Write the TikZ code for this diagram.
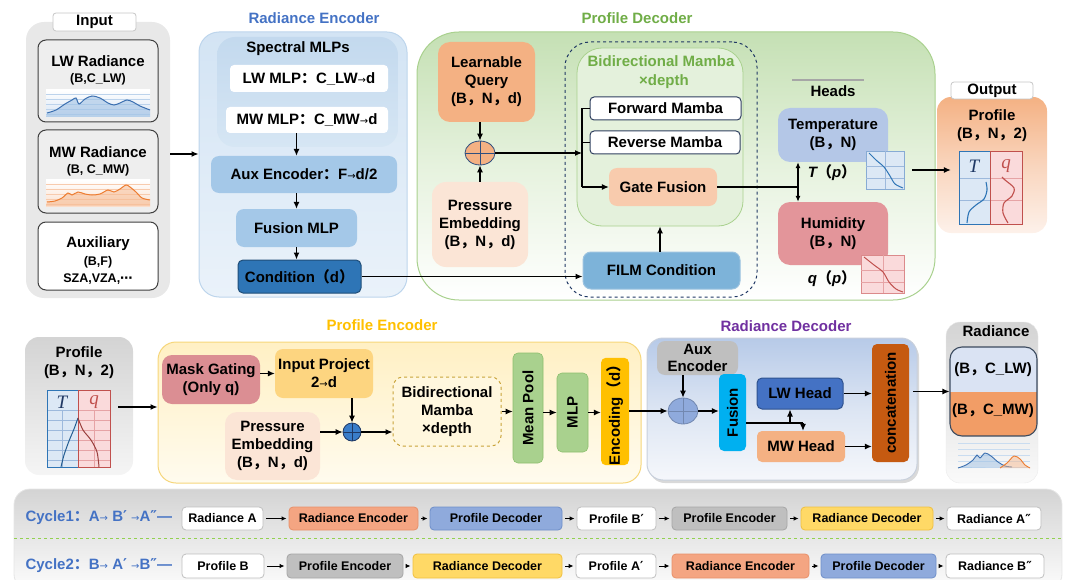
\documentclass[tikz,border=0pt]{standalone}
\usepackage{fontspec}
\setmainfont{Liberation Sans}
\newfontfamily\cjk{Noto Sans CJK SC}
\newfontfamily\dvf{DejaVu Sans}
\newfontfamily\serf{Liberation Serif}
\usetikzlibrary{arrows.meta,shadows,shapes.geometric}
\newcommand\fw[1]{{\cjk #1}}
\newcommand\ra{{\dvf\mdseries\fontsize{10}{10}\selectfont →}}
\newcommand\pr{{\dvf ′}}
\newcommand\dpr{{\dvf ″}}
\newcommand\bx[7]{\node[#1, minimum width={(#4-#2)*1pt}, minimum height={(#5-#3)*1pt}, inner sep=0pt] (#6) at ({(#2+#4)/2},{(#3+#5)/2}) {#7};}
\definecolor{inGray}{HTML}{E8E8E8}
\definecolor{boxGray}{HTML}{EEEEEE}
\definecolor{boxLine}{HTML}{3F3F3F}
\definecolor{titleBlue}{HTML}{4472C4}
\definecolor{titleGreen}{HTML}{70AD47}
\definecolor{titleYel}{HTML}{FFC000}
\definecolor{titlePur}{HTML}{7030A0}
\definecolor{reTop}{HTML}{D3E4F4}
\definecolor{reBot}{HTML}{EAF2FA}
\definecolor{reLine}{HTML}{BDD5EC}
\definecolor{spTop}{HTML}{C3D9EE}
\definecolor{spBot}{HTML}{D6E6F4}
\definecolor{auxB}{HTML}{A4C8E8}
\definecolor{condB}{HTML}{2E75B6}
\definecolor{condL}{HTML}{1F4E79}
\definecolor{pdTop}{HTML}{C5E0B4}
\definecolor{pdMid}{HTML}{E6F2DE}
\definecolor{pdLine}{HTML}{A9D18E}
\definecolor{lqO}{HTML}{F4B183}
\definecolor{plusL}{HTML}{2F4F7F}
\definecolor{peP}{HTML}{FBE5D6}
\definecolor{dashL}{HTML}{203864}
\definecolor{mbG}{HTML}{E4F1DC}
\definecolor{mbL}{HTML}{A9D18E}
\definecolor{fwdL}{HTML}{2F3F5F}
\definecolor{gateO}{HTML}{F8CBAD}
\definecolor{filmB}{HTML}{7DB3D9}
\definecolor{filmL}{HTML}{9CC3E0}
\definecolor{tempB}{HTML}{B4C7E7}
\definecolor{humR}{HTML}{E3959A}
\definecolor{outTop}{HTML}{F4B183}
\definecolor{outMid}{HTML}{F9D5BD}
\definecolor{outBot}{HTML}{FDF1EA}
\definecolor{tBlue}{HTML}{2E75B6}
\definecolor{tDark}{HTML}{1F3864}
\definecolor{tFill}{HTML}{DCE8F5}
\definecolor{tGrid}{HTML}{9DB9DC}
\definecolor{qRed}{HTML}{C0504D}
\definecolor{qFill}{HTML}{FADADB}
\definecolor{qGrid}{HTML}{E6A3A5}
\definecolor{lwLine}{HTML}{3B6FB0}
\definecolor{lwArea}{HTML}{9DBFE3}
\definecolor{lwGrid}{HTML}{BCD3EC}
\definecolor{mwLine}{HTML}{ED7D31}
\definecolor{mwArea}{HTML}{F6B98F}
\definecolor{mwGrid}{HTML}{F8CBAD}
\definecolor{pencTop}{HTML}{FFF0C4}
\definecolor{pencBot}{HTML}{FFFBEE}
\definecolor{pencL}{HTML}{F6D67A}
\definecolor{maskR}{HTML}{DB8E93}
\definecolor{inprojY}{HTML}{FDD580}
\definecolor{bmL}{HTML}{C9A43A}
\definecolor{bmF}{HTML}{FFF7DE}
\definecolor{plus2B}{HTML}{3A7DC9}
\definecolor{poolG}{HTML}{A9D18E}
\definecolor{poolL}{HTML}{8DBF6E}
\definecolor{encY}{HTML}{FFC000}
\definecolor{rdTop}{HTML}{B7CAE8}
\definecolor{rdMid}{HTML}{DCE5F3}
\definecolor{rdBot}{HTML}{F5F7FB}
\definecolor{rdL}{HTML}{C8D0DC}
\definecolor{auxG}{HTML}{BFBFBF}
\definecolor{plus3B}{HTML}{8FAADC}
\definecolor{fusC}{HTML}{00B0F0}
\definecolor{lwhB}{HTML}{4472C4}
\definecolor{lwhL}{HTML}{2F528F}
\definecolor{mwhO}{HTML}{F4B183}
\definecolor{catO}{HTML}{C55A11}
\definecolor{radLW}{HTML}{DAE3F3}
\definecolor{radMW}{HTML}{F29D66}
\definecolor{radL}{HTML}{3B4A5E}
\definecolor{cycB}{HTML}{4472C4}
\definecolor{cRE}{HTML}{F4A582}
\definecolor{cREL}{HTML}{E8916A}
\definecolor{cPD}{HTML}{8FAADC}
\definecolor{cPDL}{HTML}{6F8FC9}
\definecolor{cPE}{HTML}{BFBFBF}
\definecolor{cPEL}{HTML}{A6A6A6}
\definecolor{cRD}{HTML}{FFD966}
\definecolor{cRDL}{HTML}{F0C040}
\definecolor{cW}{HTML}{BFBFBF}
\definecolor{dashG}{HTML}{92D050}
\begin{document}
\begin{tikzpicture}[x=1pt,y=-1pt,
  every node/.style={font=\fontsize{15}{18}\selectfont\bfseries, align=center},
  sm/.style={font=\fontsize{12.5}{15}\selectfont\bfseries},
  box/.style={rounded corners=#1}, box/.default=8pt,
  arr/.style={-{Latex[length=7pt,width=6pt]}, line width=1.1pt},
  sarr/.style={-{Latex[length=5pt,width=4.5pt]}, line width=1pt, shorten <=3pt, shorten >=2pt},
  ln/.style={line width=1.1pt},
  plusnode/.style={ellipse, draw=#1, inner sep=0pt, line width=0.8pt,
    path picture={\draw[#1, line width=0.8pt] (path picture bounding box.north) -- (path picture bounding box.south) (path picture bounding box.west) -- (path picture bounding box.east);}},
  cbox/.style={box=4pt, font=\fontsize{12.5}{15}\selectfont\bfseries, line width=0.8pt},
  tq/.style={font=\serf\mdseries\itshape\fontsize{19}{19}\selectfont, inner sep=0pt}
]
\useasboundingbox (0,0) rectangle (1067,580);
\coordinate (y154) at (0,154);
\coordinate (y407) at (0,407);

% ================= Input =================
\bx{box=18pt, fill=inGray}{26}{22}{170}{298}{inpanel}{}
\bx{box=3pt, fill=white, draw=gray!45, line width=0.8pt}{53}{13}{136}{31}{inlabel}{Input}
\bx{box=8pt, fill=boxGray, draw=boxLine, line width=1pt}{38}{40}{158}{122}{lwin}{}
\node (lwt1) at (98,61) {LW Radiance};
\node[sm] (lwt2) at (98,79) {(B,C\_LW)};
\fill[top color=white, bottom color=lwGrid!60] (46,90) rectangle (150,117);
\foreach \yy in {94,99,104,109,114} \draw[lwGrid, line width=0.5pt] (46,\yy) -- (150,\yy);
\fill[lwArea, opacity=0.55] plot[smooth] coordinates {(47,113) (56,110) (65,104) (72,100) (76,98) (79,104) (85,99) (92,96) (100,98) (108,103) (114,105) (120,103) (127,100) (133,102) (140,106) (150,110)} -- (150,117) -- (46,117) -- cycle;
\draw[lwLine, line width=1pt] plot[smooth] coordinates {(47,113) (56,110) (65,104) (72,100) (76,98) (79,104) (85,99) (92,96) (100,98) (108,103) (114,105) (120,103) (127,100) (133,102) (140,106) (150,110)};

\bx{box=8pt, fill=boxGray, draw=boxLine, line width=1pt}{38}{130}{158}{213}{mwin}{}
\node (mwt1) at (98,152) {MW Radiance};
\node[sm] (mwt2) at (98,170) {(B, C\_MW)};
\fill[top color=white, bottom color=mwGrid!60] (46,180) rectangle (150,206);
\foreach \yy in {184,189,194,199,204} \draw[mwGrid, line width=0.5pt] (46,\yy) -- (150,\yy);
\fill[mwArea, opacity=0.5] plot[smooth] coordinates {(47,202) (55,201) (62,198) (68,193) (72,195) (78,192) (85,194) (92,195) (100,194) (108,190) (114,192) (120,189) (126,185) (130,187) (136,192) (142,198) (150,200)} -- (150,206) -- (46,206) -- cycle;
\draw[mwLine, line width=1pt] plot[smooth] coordinates {(47,202) (55,201) (62,198) (68,193) (72,195) (78,192) (85,194) (92,195) (100,194) (108,190) (114,192) (120,189) (126,185) (130,187) (136,192) (142,198) (150,200)};

\bx{box=8pt, fill=white, draw=boxLine, line width=1pt}{38}{222}{158}{290}{auxin}{}
\node (auxt1) at (98,244) {Auxiliary};
\node[sm, font=\fontsize{12.5}{17}\selectfont\bfseries] (auxt2) at (98,270) {(B,F)\\SZA,VZA,{\dvf ⋯}};

% ================= Radiance Encoder =================
\node[text=titleBlue] (retitle) at (314,18) {Radiance Encoder};
\bx{box=20pt, top color=reTop, bottom color=reBot, draw=reLine, line width=1pt}{199}{32}{407}{297}{re}{}
\bx{box=18pt, top color=spTop, bottom color=spBot}{217}{37}{398}{147}{spec}{}
\node (spect) at (298,49) {Spectral MLPs};
\bx{box=4pt, fill=white}{230}{65}{388}{92}{lwmlp}{LW MLP\fw{：}C\_LW\ra d}
\bx{box=4pt, fill=white}{226}{107}{388}{133}{mwmlp}{MW MLP\fw{：}C\_MW\ra d}
\bx{box=8pt, fill=auxB}{211}{156}{397}{193}{auxenc}{Aux Encoder\fw{：}F\ra d/2}
\bx{box=8pt, fill=auxB}{236}{209}{357}{247}{fusmlp}{Fusion MLP}
\bx{box=5pt, fill=condB, draw=condL, line width=1pt}{238}{260}{361}{293}{cond}{Condition\fw{（}d\fw{）}}
\draw[arr] (mwmlp.south -| fusmlp) -- (auxenc.north -| fusmlp);
\draw[arr] (auxenc.south -| fusmlp) -- (fusmlp.north);
\draw[arr] (fusmlp.south) -- (fusmlp.south |- cond.north);
\draw[arr] (inpanel.east |- y154) -- (re.west |- y154);

% ================= Profile Decoder =================
\node[text=titleGreen] (pdtitle) at (637,18) {Profile Decoder};
\bx{box=42pt, top color=pdTop, bottom color=white, middle color=pdMid, draw=pdLine, line width=1pt}{417}{32}{935}{300}{pd}{}
\bx{box=12pt, fill=lqO}{438}{42}{535}{122}{lq}{Learnable\\Query\\(B\fw{，}N\fw{，}d)}
\node[plusnode=plusL, fill=lqO, minimum width=30pt, minimum height=24pt] (plus1) at (480,153) {};
\bx{box=14pt, fill=peP}{432}{182}{528}{267}{pe1}{Pressure\\Embedding\\(B\fw{，}N\fw{，}d)}
\draw[arr] (lq.south -| plus1) -- (plus1.north);
\draw[arr] (pe1.north -| plus1) -- (plus1.south);

\bx{box=25pt, draw=dashL, dashed, line width=1pt}{565}{42}{757}{297}{dbox}{}
\bx{box=25pt, fill=mbG, draw=mbL, line width=0.8pt}{577}{48}{743}{226}{mamba}{}
\node[text=titleGreen, font=\fontsize{15}{19}\selectfont\bfseries] (mbt) at (661,72.5) {Bidirectional Mamba\\\hspace*{6pt}×depth};
\bx{box=4pt, fill=white, draw=fwdL, line width=1pt}{590}{97}{741}{120}{fwd}{Forward Mamba}
\bx{box=4pt, fill=white, draw=fwdL, line width=1pt}{590}{131}{740}{154}{rev}{Reverse Mamba}
\bx{box=8pt, fill=gateO}{609}{168}{717}{206}{gate}{Gate Fusion}
\bx{box=8pt, fill=filmB, draw=filmL, line width=1pt}{583}{252}{740}{289}{film}{FILM Condition}
\coordinate (br) at (582,153);
\draw[arr] (plus1.east) -- (br);
\draw[ln] (fwd.west) -- (fwd.west -| br) -- (gate.west -| br);
\draw[ln] (rev.west) -- (rev.west -| br);
\draw[arr] (gate.west -| br) -- (gate.west);
\draw[arr] (film.north -| mamba) -- (mamba.south);
\draw[arr] (cond.east) -- (cond.east -| film.west);

% Heads
\draw[gray!70, line width=1.5pt] (792,80) -- (864,80);
\node (headst) at (833,91) {Heads};
\bx{box=12pt, fill=tempB}{778}{108}{888}{162}{temp}{Temperature\\(B\fw{，}N)}
\bx{box=12pt, fill=humR}{778}{202}{888}{265}{hum}{Humidity\\(B\fw{，}N)}
\coordinate (hj) at (798,187);
\draw[ln] (gate.east) -- (gate.east -| hj);
\draw[{Latex[length=6pt,width=5pt]}-{Latex[length=6pt,width=5pt]}, line width=1.1pt] (hj |- temp.south) -- (hj |- hum.north);
\node (tp) at (832,173) {\itshape T\fw{（}p\fw{）}};
\node (qp) at (832,279) {\itshape q\fw{（}p\fw{）}};
\bx{fill=tFill, draw=tGrid!80!tBlue, line width=0.8pt}{866}{151}{904}{189}{tchart}{}
\draw[tGrid, line width=0.4pt] (885,151) -- (885,189) (866,166) -- (904,166) (866,178) -- (904,178);
\draw[tBlue, line width=1pt] plot[smooth] coordinates {(869,153) (876,160) (884,167) (890,176) (895,184) (903,188)};
\bx{fill=qFill, draw=qGrid!70!qRed, line width=0.8pt}{861}{255}{904}{293}{qchart}{}
\draw[qGrid, line width=0.4pt] (883,255) -- (883,293) (861,270) -- (904,270) (861,282) -- (904,282);
\draw[qRed, line width=1pt] plot[smooth] coordinates {(864,257) (874,265) (883,272) (889,282) (896,289) (903,292)};

% Output
\bx{box=14pt, top color=outTop, bottom color=outBot, middle color=outMid}{937}{97}{1047}{233}{outp}{}
\bx{box=3pt, fill=white, draw=gray!45, line width=0.8pt}{951}{82}{1033}{99}{outl}{Output}
\node (outt) at (992,126) {Profile\\(B\fw{，}N\fw{，}2)};
\fill[tFill] (959,152) rectangle (990,224);
\fill[qFill] (990,152) rectangle (1022,224);
\draw[tGrid, line width=0.5pt] (959,178) -- (990,178) (959,200) -- (990,200);
\draw[qGrid, line width=0.5pt] (990,178) -- (1022,178) (990,200) -- (1022,200);
\draw[tBlue, line width=1pt] (959,152) rectangle (990,224);
\draw[qRed, line width=1pt] (990,152) rectangle (1022,224);
\node[tq, text=tDark] (pcoT) at (974,166) {T};
\node[tq, text=qRed] (pcoQ) at (1006,166) {q};
\draw[tBlue, line width=1.1pt] plot[smooth] coordinates {(967,223) (969,212) (976,205) (984,199) (987,190) (986,182)};
\draw[qRed, line width=1.1pt] plot[smooth] coordinates {(1008,223) (1003,213) (1004,203) (1012,196) (1014,188) (1005,180) (1002,177)};
\bx{}{959}{152}{1022}{224}{pco}{}
\draw[arr] ([xshift=8pt]tchart.east) -- ([xshift=-8pt]pco.west |- tchart.east);

% ================= Bottom: Profile input =================
\bx{box=14pt, top color=black!17, bottom color=black!4}{25}{337}{133}{475}{bprof}{}
\node (bpt) at (79,363) {Profile\\(B\fw{，}N\fw{，}2)};
\fill[tFill] (47,390) rectangle (78,467);
\fill[qFill] (78,390) rectangle (110,467);
\foreach \yy in {410,420,430,440,450,460} {\draw[tGrid, line width=0.4pt] (47,\yy) -- (78,\yy); \draw[qGrid, line width=0.4pt] (78,\yy) -- (110,\yy);}
\draw[tGrid, line width=0.4pt] (62,410) -- (62,467);
\draw[qGrid, line width=0.4pt] (94,410) -- (94,467);
\draw[tBlue, line width=1pt] (47,390) rectangle (78,467);
\draw[qRed, line width=1pt] (78,390) rectangle (110,467);
\node[tq, text=tDark] (bpT) at (62,402) {T};
\node[tq, text=qRed] (bpQ) at (94,402) {q};
\draw[tBlue!80!black, line width=1pt] plot[smooth] coordinates {(61,467) (64,455) (69,441) (74,429) (78,418)};
\draw[qRed!80!black, line width=1pt] plot[smooth] coordinates {(78,418) (83,430) (91,440) (97,452) (99,467)};
\bx{}{47}{390}{110}{467}{bpc}{}

% ================= Profile Encoder =================
\node[text=titleYel] (pentitle) at (382,325) {Profile Encoder};
\bx{box=18pt, top color=pencTop, bottom color=pencBot, draw=pencL, line width=1pt}{158}{342}{641}{483}{penc}{}
\draw[arr] (bpc.east |- y407) ++(8,0) -- (penc.west |- y407);
\bx{box=10pt, fill=maskR}{162}{355}{260}{404}{mask}{Mask Gating\\(Only q)}
\bx{box=8pt, fill=inprojY}{275}{349}{373}{398}{inproj}{Input Project\\2{\dvf\mdseries\fontsize{10}{10}\selectfont →}d}
\bx{box=12pt, fill=peP}{225}{412}{320}{480}{pe2}{Pressure\\Embedding\\(B\fw{，}N\fw{，}d)}
\node[plusnode=tDark, fill=plus2B, minimum width=18pt, minimum height=18pt] (plus2) at (352,432) {};
\draw[arr] (mask.east |- inproj.west) -- (inproj.west);
\draw[arr] (plus2.north |- inproj.south) -- (plus2.north);
\draw[arr] (pe2.east |- plus2) -- (plus2.west);
\bx{box=10pt, dashed, draw=bmL, fill=bmF, line width=1pt}{393}{377}{501}{446}{bm2}{Bidirectional\\Mamba\\×depth}
\draw[arr] (plus2.east) -- (plus2.east -| bm2.west);
\bx{box=5pt, fill=poolG, draw=poolL, line width=0.6pt}{513}{353}{543}{463}{pool}{\rotatebox{90}{Mean Pool}}
\bx{box=5pt, fill=poolG, draw=poolL, line width=0.6pt}{557}{373}{588}{452}{mlp}{\rotatebox{90}{MLP}}
\bx{box=5pt, fill=encY}{601}{358}{629}{465}{enc}{\rotatebox{90}{Encoding\fw{（}d\fw{）}}}
\draw[arr] (bm2.east) -- (bm2.east -| pool.west);
\draw[arr] (pool.east |- mlp) -- (mlp.west);
\draw[arr] (mlp.east) -- (mlp.east -| enc.west);

% ================= Radiance Decoder =================
\node[text=titlePur] (rdtitle) at (786,326) {Radiance Decoder};
\bx{box=16pt, top color=rdTop, bottom color=rdBot, middle color=rdMid, draw=rdL, line width=1pt,
  drop shadow={opacity=0.3, shadow xshift=2pt, shadow yshift=-3pt}}{647}{338}{917}{480}{rd}{}
\bx{box=8pt, fill=auxG, font=\fontsize{15}{17}\selectfont\bfseries}{657}{341}{738}{375}{aux2}{Aux\\Encoder}
\node[plusnode=plus3B!80!black, fill=plus3B, minimum width=30pt, minimum height=26pt] (plus3) at (683,411) {};
\draw[arr] (enc.east |- plus3) -- (plus3.west);
\draw[arr] (aux2.south -| plus3) -- (plus3.north);
\bx{box=5pt, fill=fusC}{719}{374}{746}{451}{fus}{\rotatebox{90}{Fusion}}
\draw[arr] (plus3.east) -- (plus3.east -| fus.west);
\bx{box=5pt, fill=lwhB, draw=lwhL, line width=1pt}{757}{378}{843}{409}{lwh}{LW Head}
\bx{box=5pt, fill=mwhO}{757}{431}{845}{462}{mwh}{MW Head}
\coordinate (fa) at (790,423);
\coordinate (fb) at (803,423);
\draw[ln] (fus.east |- fa) -- (fb);
\draw[arr] (fa) -- (fa |- lwh.south);
\draw[arr] (fb) -- (fb |- mwh.north);
\bx{box=5pt, fill=catO}{872}{344}{909}{462}{cat}{\rotatebox{90}{concatenation}}
\draw[arr] (lwh.east) -- (lwh.east -| cat.west);
\draw[arr] (mwh.east) -- (mwh.east -| cat.west);

% Radiance output panel
\bx{box=14pt, top color=black!17, bottom color=black!2, draw=black!8}{946}{322}{1038}{483}{radp}{}
\node (radt) at (996,331) {Radiance};
\begin{scope}
\clip[rounded corners=12pt] (950,347) rectangle (1037,436);
\fill[radLW] (950,347) rectangle (1037,392);
\fill[radMW] (950,392) rectangle (1037,436);
\end{scope}
\bx{box=12pt, draw=radL, line width=1.1pt}{950}{347}{1037}{436}{radin}{}
\node (radlw) at (993,370) {(B\fw{，}C\_LW)};
\node (radmw) at (993,411) {(B\fw{，}C\_MW)};
\draw[arr] (cat.east |- radin.west) ++(4,0) -- (radin.west);
\foreach \yy in {443,449,455,461,467} \draw[lwGrid!80, line width=0.4pt] (958,\yy) -- (1030,\yy);
\fill[lwArea, opacity=0.5] plot[smooth] coordinates {(958,468) (966,465) (973,460) (977,455) (980,458) (985,453) (991,456) (998,462) (1005,466) (1012,467)} -- cycle;
\draw[lwLine, line width=0.9pt] plot[smooth] coordinates {(958,468) (966,465) (973,460) (977,455) (980,458) (985,453) (991,456) (998,462) (1005,466) (1012,467)};
\fill[mwArea, opacity=0.5] plot[smooth] coordinates {(1000,468) (1007,463) (1014,456) (1020,459) (1025,465) (1030,468)} -- cycle;
\draw[mwLine, line width=0.9pt] plot[smooth] coordinates {(1000,468) (1007,463) (1014,456) (1020,459) (1025,465) (1030,468)};

% ================= Cycles =================
\bx{box=16pt, top color=black!17, bottom color=black!1, draw=black!10, line width=0.8pt}{14}{489}{1062}{590}{cyc}{}
\draw[dashG, dashed, line width=0.9pt] (14,538) -- (1062,538);
\node[anchor=west, text=cycB] (c1l) at (22,518) {Cycle1\fw{：}A\ra{} B\pr{} \ra A\dpr —};
\node[anchor=west, text=cycB] (c2l) at (22,566) {Cycle2\fw{：}B\ra{} A\pr{} \ra B\dpr —};

\bx{cbox, fill=white, draw=cW}{182}{507}{263}{530}{c1a}{Radiance A}
\bx{cbox, fill=cRE, draw=cREL}{289}{507}{418}{530}{c1b}{Radiance Encoder}
\bx{cbox, fill=cPD, draw=cPDL}{430}{507}{562}{530}{c1c}{Profile Decoder}
\bx{cbox, fill=white, draw=cW}{577}{507}{656}{530}{c1d}{Profile B\pr}
\bx{cbox, fill=cPE, draw=cPEL}{672}{507}{787}{530}{c1e}{Profile Encoder}
\bx{cbox, fill=cRD, draw=cRDL}{801}{507}{933}{530}{c1f}{Radiance Decoder}
\bx{cbox, fill=white, draw=cW}{947}{507}{1041}{530}{c1g}{Radiance A\dpr}
\draw[sarr] (c1a) -- (c1b);
\draw[sarr] (c1b) -- (c1c);
\draw[sarr] (c1c) -- (c1d);
\draw[sarr] (c1d) -- (c1e);
\draw[sarr] (c1e) -- (c1f);
\draw[sarr] (c1f) -- (c1g);

\bx{cbox, fill=white, draw=cW}{182}{554}{264}{578}{c2a}{Profile B}
\bx{cbox, fill=cPE, draw=cPEL}{287}{554}{403}{578}{c2b}{Profile Encoder}
\bx{cbox, fill=cRD, draw=cRDL}{413}{554}{562}{578}{c2c}{Radiance Decoder}
\bx{cbox, fill=white, draw=cW}{576}{554}{656}{578}{c2d}{Profile A\pr}
\bx{cbox, fill=cRE, draw=cREL}{672}{554}{809}{578}{c2e}{Radiance Encoder}
\bx{cbox, fill=cPD, draw=cPDL}{821}{554}{936}{578}{c2f}{Profile Decoder}
\bx{cbox, fill=white, draw=cW}{946}{554}{1044}{578}{c2g}{Radiance B\dpr}
\draw[sarr] (c2a) -- (c2b);
\draw[sarr] (c2b) -- (c2c);
\draw[sarr] (c2c) -- (c2d);
\draw[sarr] (c2d) -- (c2e);
\draw[sarr] (c2e) -- (c2f);
\draw[sarr] (c2f) -- (c2g);
\end{tikzpicture}
\end{document}
